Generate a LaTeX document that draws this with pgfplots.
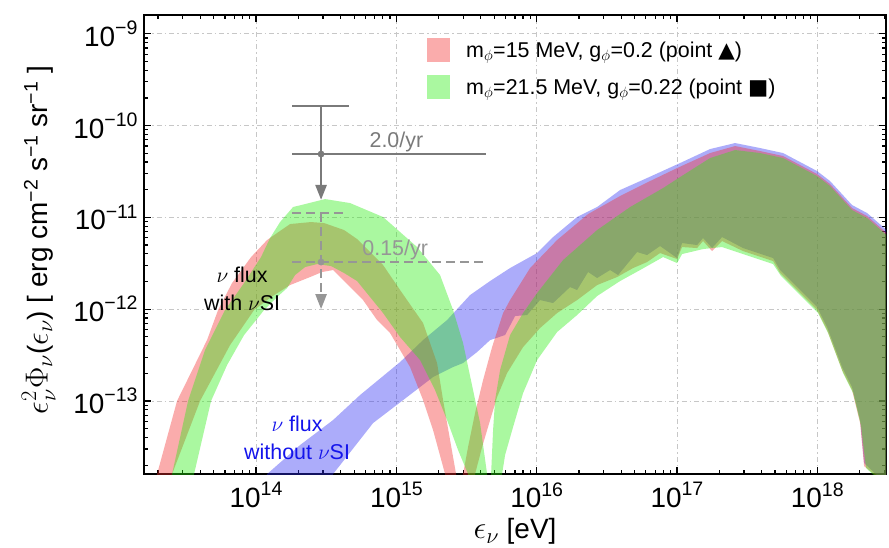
\RequirePackage{fix-cm}
\documentclass[border=0pt]{standalone}
\usepackage{fontspec}
\setmainfont{Liberation Sans}
\newfontfamily\symfont{DejaVu Sans}
\usepackage{pgfplots}
\pgfplotsset{compat=1.18}
\usetikzlibrary{arrows.meta}
\definecolor{cred}{RGB}{242,47,47}
\definecolor{cgreen}{RGB}{42,237,17}
\definecolor{cblue}{RGB}{47,47,242}
\definecolor{cgrayA}{RGB}{122,122,122}
\definecolor{cgrayB}{RGB}{150,150,150}
\definecolor{ctxtblue}{RGB}{20,20,235}
\newcommand\tkl[1]{\fontsize{28}{30}\selectfont 10\raisebox{0.42em}{\fontsize{19.6}{22}\selectfont #1}}
\newcommand\labmath[1]{{\fontsize{32}{34}\selectfont $#1$}}
\begin{document}
\begin{tikzpicture}
\begin{axis}[name=ax, scale only axis, width=742bp, height=459bp,
  xmode=log, ymode=log,
  xmin=1.59e13, xmax=3.09e18, ymin=1.6e-14, ymax=1.6e-9,
  axis line style={line width=2.2bp, black},
  tick style={line width=1.2bp, black},
  major tick length=7bp, minor tick length=4bp,
  xtick={1e14,1e15,1e16,1e17,1e18},
  xticklabels={\tkl{14},\tkl{15},\tkl{16},\tkl{17},\tkl{18}},
  ytick={1e-13,1e-12,1e-11,1e-10,1e-9},
  yticklabels={\tkl{−13},\tkl{−12},\tkl{−11},\tkl{−10},\tkl{−9}},
  minor xtick={2e13,3e13,4e13,5e13,6e13,7e13,8e13,9e13,2e14,3e14,4e14,5e14,6e14,7e14,8e14,9e14,2e15,3e15,4e15,5e15,6e15,7e15,8e15,9e15,2e16,3e16,4e16,5e16,6e16,7e16,8e16,9e16,2e17,3e17,4e17,5e17,6e17,7e17,8e17,9e17,2e18,3e18},
  minor ytick={2e-14,3e-14,4e-14,5e-14,6e-14,7e-14,8e-14,9e-14,2e-13,3e-13,4e-13,5e-13,6e-13,7e-13,8e-13,9e-13,2e-12,3e-12,4e-12,5e-12,6e-12,7e-12,8e-12,9e-12,2e-11,3e-11,4e-11,5e-11,6e-11,7e-11,8e-11,9e-11,2e-10,3e-10,4e-10,5e-10,6e-10,7e-10,8e-10,9e-10},
  yticklabel style={xshift=-3bp},
  xticklabel style={yshift=-5bp},
  grid=major,
  major grid style={dash pattern=on 5bp off 3bp on 1.5bp off 3bp, line width=0.8bp, color=black!22},
  xlabel={\labmath{\epsilon_\nu} [eV]},
  ylabel={\labmath{\epsilon_\nu^2\Phi_\nu}(\labmath{\epsilon_\nu}) [ erg cm\textsuperscript{−2} s\textsuperscript{−1} sr\textsuperscript{−1} ]},
  label style={font=\fontsize{28}{30}\selectfont},
  xlabel style={at={(axis description cs:0.5,-0.125)}, anchor=center},
  ylabel style={at={(axis description cs:-0.142,0.51)}, anchor=center},
  legend style={at={(0.3814,0.9499)}, anchor=north west, draw=none, fill=none, inner sep=0pt, row sep=13bp, column sep=16bp, font=\fontsize{21.5}{24}\selectfont, nodes={inner sep=0pt}},
  legend cell align=left,
  legend image code/.code={\fill[#1] (0bp,-12bp) rectangle (23bp,12bp);},
]
% blue band (without nuSI)
\addplot[draw=none, fill=cblue, fill opacity=0.4, forget plot] coordinates {
(1.068e14,1.070e-14) (1.198e14,1.598e-14) (2.059e14,3.308e-14) (3.538e14,6.193e-14) (5.511e14,1.160e-13)
(1.063e15,2.653e-13) (1.550e15,4.606e-13) (2.298e15,7.609e-13) (3.351e15,1.424e-12) (4.656e15,2.024e-12)
(6.463e15,2.804e-12) (1.007e16,4.084e-12) (1.309e16,6.10e-12) (1.941e16,1.008e-11) (2.695e16,1.295e-11)
(3.931e16,1.984e-11) (6.122e16,2.680e-11) (1.052e17,3.904e-11) (1.722e17,5.546e-11) (2.595e17,6.448e-11)
(3.912e17,5.688e-11) (5.705e17,5.017e-11) (9.97e17,3.194e-11) (1.233e18,2.485e-11) (1.770e18,1.361e-11)
(2.265e18,1.114e-11) (3.303e18,6.745e-12)
(3.303e18,1.213e-14) (2.803e18,1.446e-14) (2.156e18,2.106e-14) (2.020e18,6.193e-14) (1.770e18,1.417e-13)
(1.503e18,2.341e-13) (1.175e18,6.383e-13) (9.97e17,1.054e-12) (5.432e17,2.667e-12) (4.842e17,3.602e-12)
(2.958e17,4.630e-12) (2.097e17,6.10e-12) (1.779e17,4.630e-12) (1.535e17,5.950e-12) (1.391e17,4.993e-12)
(1.087e17,5.248e-12) (1.002e17,3.602e-12) (7.578e16,4.869e-12) (6.122e16,3.884e-12) (5.196e16,4.188e-12)
(3.805e16,2.352e-12) (3.337e16,2.667e-12) (2.695e16,2.182e-12) (2.325e16,2.536e-12) (1.941e16,1.614e-12)
(1.730e16,1.740e-12) (1.309e16,1.165e-12) (1.057e16,1.256e-12) (8.543e15,8.625e-13) (7.015e15,8.411e-13)
(5.954e15,5.223e-13) (4.656e15,4.606e-13) (3.760e15,3.409e-13) (2.988e15,2.588e-13) (2.536e15,2.341e-13)
(1.826e15,1.821e-13) (1.192e15,1.103e-13) (6.823e14,5.745e-14) (3.538e14,1.598e-14) (3.260e14,1.070e-14)
} -- cycle;
% red bump
\addplot[draw=none, fill=cred, fill opacity=0.4] coordinates {
(1.756e13,9.44e-15) (1.970e13,1.598e-14) (2.734e13,1.0e-13) (4.473e13,4.606e-13) (5.360e13,9.777e-13)
(6.744e13,1.924e-12) (9.213e13,3.694e-12) (1.198e14,5.659e-12) (1.411e14,6.745e-12) (1.747e14,8.453e-12)
(2.466e14,8.889e-12) (3.052e14,8.669e-12) (4.240e14,7.272e-12) (5.248e14,5.803e-12) (8.04e14,3.023e-12)
(1.063e15,1.614e-12) (1.550e15,7.058e-13) (1.950e15,2.588e-13) (2.152e15,1.023e-13) (2.414e15,3.751e-14)
(2.664e15,1.598e-14) (2.753e15,1.070e-14)
(2.298e15,1.070e-14) (2.224e15,1.598e-14) (1.826e15,4.819e-14) (1.550e15,1.023e-13) (1.252e15,2.341e-13)
(1.063e15,3.584e-13) (9.018e14,5.491e-13) (7.286e14,7.609e-13) (5.789e14,1.256e-12) (4.677e14,1.740e-12)
(3.538e14,2.667e-12) (2.954e14,2.536e-12) (2.426e14,2.237e-12) (1.747e14,1.830e-12) (1.279e14,1.354e-12)
(9.676e13,9.777e-13) (6.527e13,4.063e-13) (3.988e13,1.0e-13) (2.519e13,1.598e-14) (2.246e13,9.44e-15)
} -- cycle;
\addlegendentry{m$_\phi$=15 MeV, g$_\phi$=0.2 (point {\symfont ▲})}
% red high-energy
\addplot[draw=none, fill=cred, fill opacity=0.4, forget plot] coordinates {
(2.844e15,1.070e-14) (2.988e15,1.598e-14) (3.243e15,3.146e-14) (3.638e15,7.383e-14) (4.150e15,1.690e-13)
(4.811e15,3.865e-13) (5.761e15,9.068e-13) (6.463e15,1.256e-12) (8.977e15,2.804e-12) (1.398e16,5.659e-12)
(2.325e16,1.086e-11) (3.931e16,1.706e-11) (6.432e16,2.485e-11) (1.002e17,3.443e-11) (1.722e17,5.017e-11)
(2.595e17,5.981e-11) (3.912e17,5.275e-11) (5.705e17,4.653e-11) (9.97e17,2.962e-11) (1.233e18,2.305e-11)
(1.770e18,1.263e-11) (2.265e18,1.033e-11) (3.303e18,6.256e-12)
(3.303e18,1.154e-14) (2.803e18,1.410e-14) (2.156e18,1.953e-14) (2.020e18,5.745e-14) (1.770e18,1.314e-13)
(1.503e18,2.171e-13) (1.175e18,5.919e-13) (9.97e17,9.777e-13) (5.432e17,2.474e-12) (4.842e17,3.342e-12)
(2.958e17,4.294e-12) (2.097e17,5.519e-12) (1.779e17,4.294e-12) (1.535e17,5.519e-12) (1.391e17,4.630e-12)
(1.087e17,4.748e-12) (1.002e17,3.514e-12) (7.578e16,4.084e-12) (6.122e16,3.260e-12) (4.866e16,2.804e-12)
(3.743e16,2.237e-12) (2.695e16,1.830e-12) (1.941e16,1.256e-12) (1.398e16,9.068e-13) (1.057e16,6.224e-13)
(8.001e15,3.865e-13) (6.152e15,2.013e-13) (5.222e15,1.103e-13) (4.656e15,6.193e-14) (4.083e15,3.146e-14)
(3.638e15,1.598e-14) (3.520e15,1.070e-14)
} -- cycle;
% green bump
\addplot[draw=none, fill=cgreen, fill opacity=0.4] coordinates {
(2.246e13,9.44e-15) (2.519e13,1.598e-14) (3.276e13,1.0e-13) (4.329e13,3.584e-13) (6.012e13,9.777e-13)
(8.214e13,1.924e-12) (1.085e14,3.694e-12) (1.258e14,5.950e-12) (1.483e14,8.889e-12) (1.835e14,1.295e-11)
(3.103e14,1.582e-11) (4.677e14,1.431e-11) (8.04e14,1.008e-11) (1.405e15,4.748e-12) (2.048e15,2.352e-12)
(2.536e15,9.777e-13) (2.988e15,4.272e-13) (3.520e15,1.314e-13) (3.951e15,5.745e-14) (4.432e15,1.598e-14)
(4.505e15,1.070e-14)
(3.351e15,1.070e-14) (3.243e15,1.598e-14) (2.753e15,2.918e-14) (2.298e15,6.193e-14) (1.887e15,1.314e-13)
(1.475e15,2.790e-13) (1.063e15,4.967e-13) (8.04e14,9.068e-13) (5.248e14,2.024e-12) (4.240e14,2.474e-12)
(3.424e14,2.948e-12) (2.722e14,3.100e-12) (2.236e14,2.875e-12) (1.897e14,2.352e-12) (1.663e14,1.697e-12)
(1.411e14,1.354e-12) (1.140e14,9.777e-13) (8.214e13,5.223e-13) (6.213e13,2.461e-13) (4.778e13,1.0e-13)
(3.614e13,1.598e-14) (3.276e13,9.44e-15)
} -- cycle;
\addlegendentry{m$_\phi$=21.5 MeV, g$_\phi$=0.22 (point {\symfont ■})}
% green high-energy
\addplot[draw=none, fill=cgreen, fill opacity=0.4, forget plot] coordinates {
(4.656e15,1.070e-14) (4.733e15,1.598e-14) (4.890e15,4.819e-14) (5.053e15,1.023e-13) (5.485e15,2.171e-13)
(6.463e15,5.223e-13) (8.001e15,9.068e-13) (1.007e16,1.497e-12) (1.542e16,3.427e-12) (2.695e16,7.272e-12)
(4.632e16,1.295e-11) (7.961e16,2.086e-11) (1.052e17,2.748e-11) (1.722e17,4.426e-11) (2.595e17,5.409e-11)
(3.912e17,5.017e-11) (5.705e17,4.426e-11) (9.97e17,2.818e-11) (1.233e18,2.193e-11) (1.770e18,1.201e-11)
(2.265e18,9.826e-12) (3.303e18,5.950e-12)
(3.303e18,1.097e-14) (2.803e18,1.341e-14) (2.227e18,1.858e-14) (2.052e18,5.328e-14) (1.800e18,1.219e-13)
(1.527e18,2.013e-13) (1.194e18,5.491e-13) (1.013e18,9.068e-13) (5.521e17,2.294e-12) (4.842e17,3.100e-12)
(2.958e17,3.983e-12) (2.097e17,4.748e-12) (1.535e17,4.515e-12) (1.087e17,3.983e-12) (1.002e17,3.178e-12)
(7.961e16,3.694e-12) (5.458e16,2.667e-12) (3.931e16,2.024e-12) (2.695e16,1.389e-12) (1.941e16,8.625e-13)
(1.398e16,5.630e-13) (1.007e16,2.790e-13) (8.001e15,1.219e-13) (6.789e15,5.196e-14) (5.954e15,2.575e-14)
(5.668e15,1.598e-14) (5.485e15,1.070e-14)
} -- cycle;
% 2.0/yr limit (solid)
\addplot[cgrayA, line width=2.5bp, forget plot] coordinates {(1.806e14,1.63e-10) (4.601e14,1.63e-10)};
\addplot[cgrayA, line width=2.5bp, forget plot] coordinates {(1.806e14,4.891e-11) (4.360e15,4.891e-11)};
\addplot[cgrayA, line width=2.5bp, -{Triangle[width=11bp,length=15bp]}, forget plot] coordinates {(2.906e14,1.63e-10) (2.906e14,1.55e-11)};
\addplot[cgrayA, only marks, mark=*, mark size=3.2bp, forget plot] coordinates {(2.906e14,4.891e-11)};
% 0.15/yr limit (dashed)
\addplot[cgrayB, line width=2.3bp, dash pattern=on 9bp off 5bp, forget plot] coordinates {(1.806e14,1.114e-11) (4.453e14,1.114e-11)};
\addplot[cgrayB, line width=2.3bp, dash pattern=on 9bp off 5bp, forget plot] coordinates {(1.806e14,3.26e-12) (4.360e15,3.26e-12)};
\addplot[cgrayB, line width=2.3bp, dash pattern=on 9bp off 5bp, -{Triangle[width=11bp,length=15bp]}, forget plot] coordinates {(2.906e14,1.114e-11) (2.906e14,1.0e-12)};
\addplot[cgrayB, only marks, mark=*, mark size=3.2bp, forget plot] coordinates {(2.906e14,3.26e-12)};
% text
\node[cgrayA, font=\fontsize{21.5}{24}\selectfont] at (axis cs:1.0e15,6.61e-11) {2.0/yr};
\node[cgrayB, font=\fontsize{21.5}{24}\selectfont] at (axis cs:9.8e14,4.40e-12) {0.15/yr};
\node[black, font=\fontsize{21.5}{28}\selectfont, align=center] at (axis cs:7.95e13,1.656e-12) {$\nu$ flux\\with $\nu$SI};
\node[ctxtblue, font=\fontsize{21.5}{28}\selectfont, align=center] at (axis cs:1.96e14,3.94e-14) {$\nu$ flux\\without $\nu$SI};
\end{axis}
\path ([shift={(-144bp,-74bp)}]ax.south west) rectangle ([shift={(3bp,15bp)}]ax.north east);
\end{tikzpicture}
\end{document}
